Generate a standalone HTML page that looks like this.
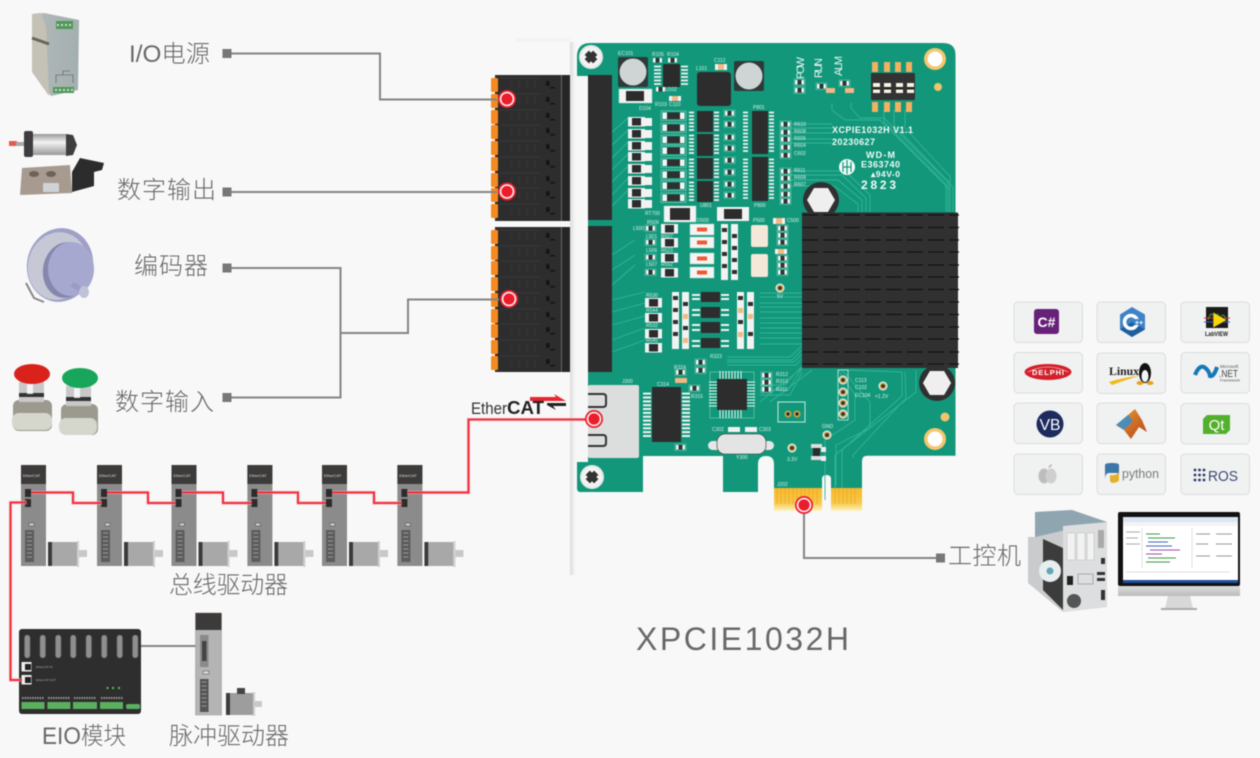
<!DOCTYPE html>
<html><head><meta charset="utf-8"><style>
html,body{margin:0;padding:0;background:#f8f8f8;width:1260px;height:758px;overflow:hidden}
svg{display:block;filter:blur(.45px)}
.l{font-family:"Liberation Sans","Noto Sans CJK SC",sans-serif;font-size:24px;font-weight:300;fill:#686868}
.p{font-family:"Liberation Sans",sans-serif;font-size:5px;fill:#d8f0e8}
.w{font-family:"Liberation Sans",sans-serif;font-weight:700;fill:#f0fbf7}
</style></head><body>
<svg width="1260" height="758" viewBox="0 0 1260 758" xmlns="http://www.w3.org/2000/svg">
<defs>
<linearGradient id="gold" x1="0" y1="0" x2="0" y2="1"><stop offset="0" stop-color="#f6b92b"/><stop offset=".65" stop-color="#f7c84a"/><stop offset="1" stop-color="#fdf3c6"/></linearGradient>
<linearGradient id="br" x1="0" y1="0" x2="1" y2="0"><stop offset="0" stop-color="#dcdcdc"/><stop offset="1" stop-color="#f5f5f5"/></linearGradient>
<linearGradient id="cyl" x1="0" y1="0" x2="0" y2="1"><stop offset="0" stop-color="#999"/><stop offset=".4" stop-color="#f2f2f2"/><stop offset="1" stop-color="#999"/></linearGradient>
<linearGradient id="ps" x1="0" y1="0" x2="1" y2="0"><stop offset="0" stop-color="#c9c7bc"/><stop offset=".3" stop-color="#aeb6b6"/><stop offset="1" stop-color="#a3afaf"/></linearGradient>
<linearGradient id="mon" x1="0" y1="0" x2="0" y2="1"><stop offset="0" stop-color="#ddd"/><stop offset="1" stop-color="#bbb"/></linearGradient>
<linearGradient id="mat" x1="0" y1="0" x2="1" y2="1"><stop offset="0" stop-color="#e8a033"/><stop offset="1" stop-color="#b8421a"/></linearGradient>

<g id="tab"><rect width="7" height="14" fill="#f58a20" rx="1"/></g>
<g id="row"><rect x="4" y="0" width="66" height="15" fill="#2d2d2d"/><path d="M9 1H50" stroke="#444" stroke-width=".6"/><path d="M20 4v8M28 4v8M36 4v8M44 4v8" stroke="#3a3a3a" stroke-width=".8"/><rect x="55" y="4" width="3.500" height="5" fill="#151515"/><rect x="59" y="10" width="5" height="1.500" fill="#151515"/></g>

<g id="dot"><circle r="9" fill="#ee1c2e"/><circle r="7.3" fill="#f8eeee"/><circle r="5.6" fill="#ea1d2c"/></g>

<g id="drv">
<rect width="25" height="101" fill="#8b8b8b"/>
<rect width="25" height="19" fill="#3d3a3a"/>
<text x="2" y="12" font-family="Liberation Sans" font-size="4" fill="#ddd">EtherCAT</text>
<rect x="4" y="24" width="6" height="8" fill="#2c2c2c"/><rect x="4" y="34" width="6" height="8" fill="#2c2c2c"/>
<rect x="8" y="58" width="5" height="3" fill="#ccc" stroke="#444" stroke-width=".5"/>
<rect x="4" y="65" width="9" height="32" fill="#5c5c5c"/>
<path d="M6 68h5M6 72h5M6 76h5M6 80h5M6 84h5M6 88h5M6 92h5" stroke="#999" stroke-width="1"/>
<rect x="27" y="77" width="4" height="24" fill="#3d3a3a"/><rect x="31" y="77" width="25" height="24" fill="#a8a8a8"/>
<rect x="56" y="76" width="2" height="26" fill="#cfcfcf"/><rect x="58" y="85" width="8" height="7" fill="#c8c8c8"/>
</g>

<g id="r"><rect width="9" height="4.5" fill="#f4f4f4"/><rect x="2.5" width="4" height="4.5" fill="#333"/></g>
<g id="rb"><rect x="-1" y="-1" width="11" height="6.5" fill="none" stroke="#7fcdb8" stroke-width=".5"/><use href="#r"/></g>
<g id="d"><rect width="25" height="9.5" fill="none" stroke="#8fd6c3" stroke-width=".6"/><rect x="1.5" y="1.5" width="22" height="6.5" fill="#f4f4f4"/><rect x="6" y="1.5" width="13" height="6.5" fill="#2f2f2f"/></g>
<g id="dl"><rect width="17" height="9.5" fill="#f2f2f2"/><rect x="4" y="1" width="9" height="7.5" fill="#2c2c2c"/></g>
<g id="led"><rect width="24" height="11" fill="#f4f4f4" stroke="#9adcc9" stroke-width=".5"/><rect x="7" y="3.5" width="10" height="4" fill="#ef5a30"/></g>
<g id="pads"><path d="M0 1.5h5M0 5h5M0 8.5h5M0 12h5M0 15.5h5M0 19h5" stroke="#f2f2f2" stroke-width="1.8"/></g>
<g id="pads2"><path d="M0 1.5h5M0 5h5M0 8.5h5M0 12h5M0 15.5h5M0 19h5M0 22.5h5M0 26h5M0 29.5h5M0 33h5M0 36.5h5M0 40h5" stroke="#f2f2f2" stroke-width="1.8"/></g>
<g id="via"><circle r="4.5" fill="#f0f0f0"/><circle r="3.3" fill="#c6a24a"/><circle r="1.8" fill="#2e2e2e"/></g>
<g id="screw"><circle r="12" fill="#e8e8e8"/><circle r="10" fill="#f3f3f3"/><path d="M-6 -3 L-3 -3 L-3 -6 L3 -6 L3 -3 L6 -3 L6 3 L3 3 L3 6 L-3 6 L-3 3 L-6 3Z" fill="#333" transform="rotate(45)"/></g>
<g id="hex"><circle r="18" fill="#303030"/><polygon points="-14,0 -7,-12 7,-12 14,0 7,12 -7,12" fill="#efefef"/></g>
<g id="ring"><circle r="11" fill="#f5c66e"/><circle r="7.5" fill="#fff"/></g>
<g id="tile"><rect width="68.5" height="40.5" rx="4" fill="#f0f1f1" stroke="#dcdcdc"/></g>
</defs>

<rect width="1260" height="758" fill="#f8f8f8"/>

<!-- bracket -->
<rect x="516" y="38" width="54" height="4" fill="#f3f3f3"/>

<!-- PCB -->
<path d="M590 43H943Q955.5 43 955.5 55V455.7H867Q862 455.7 862 461V511H831V479Q831 475 826.5 475Q822 475 822 479V511H774V464Q774 456 766 456Q758 456 758 464V492H723V456H643V492H582Q577 493 577 488V55Q578 43 590 43Z" fill="#12977a"/>
<rect x="570" y="42" width="5" height="533" fill="url(#br)"/>
<rect x="575" y="76" width="13" height="386" fill="#f7f7f7"/>

<!-- traces -->
<g fill="none" stroke="#35b497" stroke-width=".9">
<path d="M832 103V110L845 120H880L935 175 950 190V212M851 103V108L860 118H884L938 172 953 187V212"/>
<path d="M884 110V122L940 178 946 184V212M894 110V125L942 175 948 181V212M905 110V128L944 170 950 176V212"/>
<path d="M780 124H832M780 128H832M780 133H832M780 139H832M780 143H832"/>
<path d="M780 171H845L870 195V212M780 175H842L866 198V212M780 180H838L862 200V212M780 186H834L858 204V212"/>
<path d="M612 132L628 118M612 145L628 130M612 158L628 142M612 170L628 154M612 182L628 166M612 195L628 178M612 206L628 190"/>
<path d="M612 255L635 240M612 270L635 255M612 285L635 265M612 300L645 292M612 312L645 303M612 325L645 316M612 340L645 328M612 352L645 340"/>
<path d="M760 293H802M760 297H802M760 303H802M760 307H802M760 312H802M760 318H802M760 323H802M760 328H802M760 333H802M760 338H802M760 344H802"/>
<path d="M727 357H790L802 346M727 360H792L802 350M727 362H794L802 354M727 365H796L802 358"/>
<path d="M760 395H790L802 372M760 390H788L802 368M760 385H785L802 366"/>
<path d="M838 370L855 395V420L825 440V500M842 370L870 402V428L836 445V486M846 370L902 372V396L842 450V488M905 372L906 398 853 455V458"/>
<path d="M916 370V392L835 455V488"/>
<path d="M760 402L802 368M770 402L812 370"/>
</g>

<!-- connectors on PCB strip -->
<rect x="588" y="75" width="24" height="145" fill="#2d2d2d"/>
<rect x="588" y="226" width="24" height="146" fill="#2d2d2d"/>

<!-- top components -->
<rect x="618" y="57" width="30" height="30" rx="2" fill="#2e3a3a"/><circle cx="633" cy="72" r="13.5" fill="#cfd5d5"/>
<rect x="734" y="61" width="30" height="30" rx="2" fill="#2e3a3a"/><circle cx="749" cy="76" r="13.5" fill="#cfd5d5"/>
<rect x="663" y="64" width="17" height="23" fill="#2b2b2b"/>
<use href="#pads" transform="translate(654,65) scale(1.4,1)"/><use href="#pads" transform="translate(681,65) scale(1.4,1)"/>
<rect x="697" y="72" width="34" height="34" rx="3" fill="#2d2d2d"/>
<rect x="619" y="89" width="33" height="14" fill="#f3f3f3" stroke="#9adcc9" stroke-width=".5"/><rect x="626" y="91" width="18" height="10" fill="#2c2c2c"/>
<use href="#r" x="653" y="58"/><use href="#r" x="668" y="58"/><use href="#r" x="656" y="87"/>
<rect x="669" y="96" width="12" height="5" fill="#f3f3f3"/><rect x="672" y="96" width="6" height="5" fill="#f2b782"/>
<rect x="715" y="64" width="12" height="6" fill="#f3f3f3"/><rect x="718" y="64" width="6" height="6" fill="#f2b782"/>
<use href="#rb" x="795" y="80"/><use href="#rb" x="795" y="88"/><use href="#rb" x="817" y="84"/><use href="#rb" x="840" y="81"/>
<rect x="826" y="88" width="9" height="5" fill="#f2b782"/><rect x="845" y="88" width="9" height="5" fill="#f2b782"/>

<!-- DIP -->
<g fill="#f2b061"><rect x="872" y="62" width="6" height="10"/><rect x="884" y="62" width="6" height="10"/><rect x="895" y="62" width="6" height="10"/><rect x="906" y="62" width="6" height="10"/><rect x="872" y="102" width="6" height="10"/><rect x="884" y="102" width="6" height="10"/><rect x="895" y="102" width="6" height="10"/><rect x="906" y="102" width="6" height="10"/></g>
<rect x="871" y="73" width="44" height="27" rx="1" fill="#333"/>
<g fill="#f7f3e2"><rect x="873" y="83" width="7" height="10"/><rect x="884" y="83" width="7" height="10"/><rect x="896" y="83" width="7" height="10"/><rect x="907" y="83" width="7" height="10"/></g>
<g fill="#222"><rect x="873" y="87" width="7" height="2.500"/><rect x="884" y="87" width="7" height="2.500"/><rect x="896" y="87" width="7" height="2.500"/><rect x="907" y="87" width="7" height="2.500"/></g>

<!-- diode rows -->
<g>
<use href="#dl" x="628" y="117"/><use href="#dl" x="628" y="129"/><use href="#dl" x="628" y="141"/><use href="#dl" x="628" y="152"/><use href="#dl" x="628" y="164"/><use href="#dl" x="628" y="176"/><use href="#dl" x="628" y="188"/><use href="#dl" x="628" y="199"/>
<g fill="#f3f3f3"><rect x="645" y="118" width="7" height="8"/><rect x="645" y="130" width="7" height="8"/><rect x="645" y="142" width="7" height="8"/><rect x="645" y="153" width="7" height="8"/><rect x="645" y="165" width="7" height="8"/><rect x="645" y="177" width="7" height="8"/><rect x="645" y="189" width="7" height="8"/><rect x="645" y="200" width="7" height="8"/></g>
<use href="#d" x="661" y="111"/><use href="#d" x="661" y="123"/><use href="#d" x="661" y="135"/><use href="#d" x="661" y="146"/><use href="#d" x="661" y="158"/><use href="#d" x="661" y="170"/><use href="#d" x="661" y="181"/><use href="#d" x="661" y="193"/>
</g>
<!-- U801 -->
<g fill="#2d2d2d"><rect x="697" y="111" width="16" height="21"/><rect x="697" y="134" width="16" height="22"/><rect x="697" y="158" width="16" height="21"/><rect x="697" y="181" width="16" height="21"/></g>
<use href="#pads" x="689" y="111"/><use href="#pads" x="714" y="111"/><use href="#pads" x="689" y="134"/><use href="#pads" x="714" y="134"/><use href="#pads" x="689" y="158"/><use href="#pads" x="714" y="158"/><use href="#pads" x="689" y="181"/><use href="#pads" x="714" y="181"/>
<use href="#rb" x="725" y="111"/><use href="#rb" x="725" y="122"/><use href="#rb" x="725" y="135"/><use href="#rb" x="725" y="146"/><use href="#rb" x="725" y="158"/><use href="#rb" x="725" y="170"/><use href="#rb" x="725" y="182"/><use href="#rb" x="725" y="193"/>
<!-- P801 -->
<rect x="752" y="111" width="16" height="43" fill="#2d2d2d"/><rect x="752" y="157" width="16" height="44" fill="#2d2d2d"/>
<use href="#pads2" x="743" y="111"/><use href="#pads2" x="769" y="111"/><use href="#pads2" x="743" y="158"/><use href="#pads2" x="769" y="158"/>
<use href="#rb" x="781" y="122"/><use href="#rb" x="781" y="130"/><use href="#rb" x="781" y="137"/><use href="#rb" x="781" y="145"/><use href="#rb" x="781" y="153"/>
<use href="#rb" x="781" y="169"/><use href="#rb" x="781" y="176"/><use href="#rb" x="781" y="184"/><use href="#rb" x="781" y="192"/><use href="#rb" x="781" y="199"/>
<rect x="664" y="206" width="32" height="16" fill="#f3f3f3" stroke="#9adcc9" stroke-width=".5"/><rect x="670" y="208" width="20" height="12" fill="#2c2c2c"/>
<rect x="717" y="207" width="32" height="14" fill="#f3f3f3"/><rect x="724" y="209" width="18" height="10" fill="#2c2c2c"/>

<!-- mid lower -->
<use href="#dl" x="661" y="224"/><use href="#dl" x="661" y="238"/><use href="#dl" x="661" y="253"/><use href="#dl" x="661" y="268"/>
<use href="#rb" x="646" y="226"/><use href="#rb" x="646" y="240"/><use href="#rb" x="646" y="255"/><use href="#rb" x="646" y="270"/>
<use href="#led" x="690" y="224"/><use href="#led" x="690" y="237"/><use href="#led" x="690" y="253"/><use href="#led" x="690" y="267"/>
<g fill="#f2f2f2"><rect x="721" y="224" width="7" height="56"/><rect x="731" y="224" width="7" height="56"/></g>
<g fill="#2e2e2e"><rect x="722" y="228" width="5" height="4"/><rect x="722" y="240" width="5" height="4"/><rect x="722" y="252" width="5" height="4"/><rect x="722" y="264" width="5" height="4"/><rect x="732" y="234" width="5" height="4"/><rect x="732" y="246" width="5" height="4"/><rect x="732" y="258" width="5" height="4"/><rect x="732" y="270" width="5" height="4"/></g>
<rect x="751" y="225" width="17" height="22" rx="2" fill="#f4e8d8"/><rect x="751" y="254" width="17" height="23" rx="2" fill="#f4e8d8"/>
<use href="#rb" x="778" y="226"/><use href="#rb" x="778" y="233"/><use href="#rb" x="778" y="240"/><use href="#rb" x="778" y="256"/><use href="#rb" x="778" y="263"/><use href="#rb" x="778" y="270"/>
<rect x="773" y="218" width="12" height="6" fill="#f3f3f3"/><rect x="776" y="218" width="6" height="6" fill="#f2b782"/>
<rect x="775" y="249" width="12" height="5" fill="#f3f3f3"/><rect x="778" y="249" width="6" height="5" fill="#f2b782"/>
<use href="#via" x="780" y="288"/>

<!-- chips row -->
<use href="#dl" x="645" y="298"/><use href="#dl" x="645" y="313"/><use href="#dl" x="645" y="329"/><use href="#dl" x="645" y="343"/>
<g fill="#2d2d2d"><rect x="701" y="292" width="19" height="10"/><rect x="701" y="307" width="19" height="11"/><rect x="701" y="322" width="19" height="11"/><rect x="701" y="338" width="19" height="10"/></g>
<g fill="#f2f2f2"><rect x="692" y="294" width="8" height="2"/><rect x="692" y="298" width="8" height="2"/><rect x="721" y="294" width="8" height="2"/><rect x="721" y="298" width="8" height="2"/><rect x="692" y="309" width="8" height="2"/><rect x="692" y="314" width="8" height="2"/><rect x="721" y="309" width="8" height="2"/><rect x="721" y="314" width="8" height="2"/><rect x="692" y="324" width="8" height="2"/><rect x="692" y="329" width="8" height="2"/><rect x="721" y="324" width="8" height="2"/><rect x="721" y="329" width="8" height="2"/><rect x="692" y="340" width="8" height="2"/><rect x="692" y="345" width="8" height="2"/><rect x="721" y="340" width="8" height="2"/><rect x="721" y="345" width="8" height="2"/></g>
<g fill="#f2f2f2"><rect x="672" y="292" width="7" height="57"/><rect x="682" y="292" width="7" height="57"/><rect x="737" y="292" width="7" height="57"/><rect x="747" y="292" width="7" height="57"/></g>
<g fill="#2e2e2e"><rect x="673" y="296" width="5" height="4"/><rect x="673" y="308" width="5" height="4"/><rect x="673" y="320" width="5" height="4"/><rect x="673" y="332" width="5" height="4"/><rect x="683" y="302" width="5" height="4"/><rect x="683" y="326" width="5" height="4"/><rect x="738" y="296" width="5" height="4"/><rect x="738" y="320" width="5" height="4"/><rect x="748" y="302" width="5" height="4"/><rect x="748" y="332" width="5" height="4"/></g>
<g fill="#f2b782"><rect x="683" y="314" width="5" height="5"/><rect x="683" y="338" width="5" height="5"/><rect x="738" y="308" width="5" height="5"/><rect x="738" y="332" width="5" height="5"/><rect x="748" y="314" width="5" height="5"/></g>

<!-- ethernet chips -->
<use href="#pads2" transform="translate(643,392) scale(1.6,1.1)"/>
<use href="#pads2" transform="translate(682,392) scale(1.6,1.1)"/>
<rect x="652" y="387" width="29" height="55" fill="#2d2d2d"/>
<rect x="710" y="372" width="44" height="46" fill="none" stroke="#7fcdb8" stroke-width=".6"/>
<g stroke="#e8f3ef" stroke-width="1" fill="none">
<path d="M709 382h8M709 385h8M709 388h8M709 391h8M709 394h8M709 397h8M709 400h8M709 403h8M709 406h8M747 382h8M747 385h8M747 388h8M747 391h8M747 394h8M747 397h8M747 400h8M747 403h8M747 406h8"/>
<path d="M720 371v8M723 371v8M726 371v8M729 371v8M732 371v8M735 371v8M738 371v8M741 371v8M720 410v8M723 410v8M726 410v8M729 410v8M732 410v8M735 410v8M738 410v8M741 410v8"/>
</g>
<rect x="717" y="379" width="30" height="31" fill="#2d2d2d"/>
<use href="#rb" x="762" y="373"/><use href="#rb" x="762" y="380"/><use href="#rb" x="762" y="387"/>
<use href="#rb" x="696" y="360"/><use href="#rb" x="696" y="368"/><use href="#rb" x="690" y="386"/>
<use href="#rb" x="676" y="370"/>
<rect x="675" y="378" width="12" height="5" fill="#f2b782"/>
<use href="#rb" x="676" y="445"/>
<rect x="728" y="427" width="12" height="5" fill="#f2f2f2"/><rect x="745" y="427" width="12" height="5" fill="#f2f2f2"/>
<rect x="708" y="441" width="66" height="9" rx="4.5" fill="#e6e6e6"/>
<rect x="717" y="434" width="49" height="20" rx="8" fill="#e4e4e4" stroke="#333" stroke-width=".6"/>
<!-- J200 -->
<rect x="778" y="402" width="27" height="20" fill="none" stroke="#c7eadf" stroke-width="1"/>
<circle cx="788" cy="414" r="3.5" fill="#c6a24a"/><circle cx="788" cy="414" r="1.6" fill="#222"/><circle cx="797" cy="414" r="3.5" fill="#c6a24a"/><circle cx="797" cy="414" r="1.6" fill="#222"/>
<use href="#via" x="792" y="448"/><use href="#via" x="827" y="435"/>
<use href="#via" x="883" y="386"/>
<rect x="838" y="370" width="10" height="50" fill="none" stroke="#c7eadf" stroke-width=".8"/>
<use href="#via" x="843" y="380"/><use href="#via" x="843" y="392"/><use href="#via" x="843" y="403"/><use href="#via" x="843" y="414"/>
<rect x="813" y="444" width="7" height="16" fill="#2b2b2b"/><rect x="811" y="444" width="11" height="4" fill="#ddd"/><rect x="811" y="456" width="11" height="4" fill="#ddd"/>
<rect x="821" y="447" width="5" height="5" fill="#eee"/>
<rect x="821" y="456" width="5" height="5" fill="#eee"/>

<!-- J300 -->
<rect x="588" y="385" width="51" height="73" fill="#dcdedd" rx="2"/>
<path d="M588 394H603Q606 394 606 397V404Q606 407 603 407H588M588 435H603Q606 435 606 438V443Q606 446 603 446H588" fill="none" stroke="#333" stroke-width="2"/>

<!-- heatsink and holes -->
<use href="#hex" x="821" y="200"/>
<use href="#hex" x="937" y="383"/>
<rect x="802" y="212.5" width="156" height="155.5" fill="#303030"/>
<g stroke="#131313" stroke-width="1.2" stroke-dasharray="16 5" fill="none">
<path d="M802 215H959M802 227.5H959M802 240H959M802 252H959M802 265H959M802 277H959M802 289.5H959M802 302H959M802 314.5H959M802 327H959M802 339H959M802 352H959M802 364H959"/>
</g>
<polygon points="923,383 930,371 944,371 951,383 944,395 930,395" fill="#efefef"/>

<use href="#ring" x="935" y="59"/><use href="#ring" x="935" y="439"/>
<circle cx="938" cy="87" r="4" fill="#f0c46c"/><circle cx="945" cy="417" r="4.5" fill="#f0c46c"/>
<use href="#screw" x="591" y="57"/><use href="#screw" x="592" y="477"/>

<!-- gold fingers -->
<rect x="774" y="488" width="48" height="23" fill="url(#gold)"/>
<rect x="831" y="488" width="31" height="23" fill="url(#gold)"/>
<path d="M777 488V504M781 488V504M785 488V504M789 488V504M793 488V504M797 488V504M801 488V504M805 488V504M809 488V504M813 488V504M817 488V504M835 488V504M839 488V504M843 488V504M847 488V504M851 488V504M855 488V504" stroke="#f0a82a" stroke-width=".8"/>

<!-- PCB labels -->
<text class="w" x="832" y="133" font-size="9" textLength="81">XCPIE1032H V1.1</text>
<text class="w" x="832" y="145" font-size="9" textLength="43">20230627</text>
<text class="w" x="866" y="158" font-size="9" font-weight="400" textLength="29">WD-M</text>
<text class="w" x="861" y="167.500" font-size="9" font-weight="400" textLength="39">E363740</text>
<text class="w" x="871" y="177" font-size="8.500" font-weight="400" textLength="29">▴94V-0</text>
<text class="w" x="861" y="189" font-size="12" font-weight="400" textLength="35">2823</text>
<circle cx="847" cy="167" r="8" fill="#f0fbf7"/><path d="M843 162v10M851 162v10M843 167h8M847 160v14" stroke="#12977a" stroke-width="1.200"/>
<text font-family="Liberation Sans" font-size="11" fill="#eaf7f3" transform="translate(804,79) rotate(-90)" textLength="22">POW</text>
<text font-family="Liberation Sans" font-size="11" fill="#eaf7f3" transform="translate(822,78) rotate(-90)" textLength="20">RUN</text>
<text font-family="Liberation Sans" font-size="11" fill="#eaf7f3" transform="translate(842,76) rotate(-90)" textLength="20">ALM</text>
<g class="p">
<text class="p" x="618" y="55">EC101</text><text class="p" x="652" y="56">R105</text><text class="p" x="667" y="56">R104</text><text class="p" x="714" y="62">C112</text><text class="p" x="696" y="70">L101</text><text class="p" x="665" y="91">U102</text><text class="p" x="655" y="106">R103</text><text class="p" x="669" y="106">C110</text><text class="p" x="639" y="110">D104</text>
<text class="p" x="753" y="109">P801</text><text class="p" x="754" y="207">P800</text><text class="p" x="700" y="207">U801</text><text class="p" x="645" y="215">RT700</text><text class="p" x="697" y="222">D500</text><text class="p" x="753" y="222">P500</text><text class="p" x="787" y="222">C500</text>
<text class="p" x="794" y="126">R610</text><text class="p" x="794" y="133">R608</text><text class="p" x="794" y="140">R606</text><text class="p" x="794" y="147">R604</text><text class="p" x="794" y="155">C602</text><text class="p" x="794" y="172">R611</text><text class="p" x="794" y="179">R609</text><text class="p" x="794" y="186">R607</text>
<text class="p" x="647" y="224">R506</text><text class="p" x="633" y="230">L500</text><text class="p" x="646" y="238">L501</text><text class="p" x="661" y="238">R507</text><text class="p" x="646" y="252">L506</text><text class="p" x="661" y="252">R623</text><text class="p" x="646" y="266">L507</text><text class="p" x="661" y="266">R552</text>
<text class="p" x="646" y="297">R530</text><text class="p" x="646" y="312">R544</text><text class="p" x="646" y="327">R532</text><text class="p" x="646" y="342">R545</text>
<text class="p" x="710" y="358">R323</text><text class="p" x="674" y="369">R324</text><text class="p" x="691" y="398">R315</text><text class="p" x="622" y="383">J300</text><text class="p" x="657" y="386">C314</text>
<text class="p" x="776" y="376">R312</text><text class="p" x="776" y="383">R313</text><text class="p" x="776" y="391">R311</text><text class="p" x="712" y="431">C302</text><text class="p" x="759" y="431">C303</text><text class="p" x="736" y="459">Y300</text>
<text class="p" x="855" y="382">C113</text><text class="p" x="855" y="389">C102</text><text class="p" x="855" y="397">EC104</text><text class="p" x="875" y="398">+1.2V</text><text class="p" x="822" y="428">GND</text><text class="p" x="787" y="461">3.3V</text><text class="p" x="777" y="486">J202</text><text class="p" x="777" y="298">5V</text>
</g>

<!-- connector blocks -->
<g>
<rect x="495" y="75" width="66" height="146" fill="#2d2d2d"/><rect x="562" y="75" width="8" height="146" fill="#262626"/><rect x="561" y="75" width="1" height="146" fill="#666"/>
<rect x="495" y="227" width="66" height="145" fill="#2d2d2d"/><rect x="562" y="227" width="8" height="145" fill="#262626"/><rect x="561" y="227" width="1" height="145" fill="#666"/>
<use href="#row" x="491" y="77"/><use href="#row" x="491" y="93"/><use href="#row" x="491" y="109"/><use href="#row" x="491" y="124"/><use href="#row" x="491" y="140"/><use href="#row" x="491" y="156"/><use href="#row" x="491" y="172"/><use href="#row" x="491" y="187"/><use href="#row" x="491" y="203"/>
<use href="#row" x="491" y="229"/><use href="#row" x="491" y="245"/><use href="#row" x="491" y="260"/><use href="#row" x="491" y="276"/><use href="#row" x="491" y="292"/><use href="#row" x="491" y="308"/><use href="#row" x="491" y="323"/><use href="#row" x="491" y="339"/><use href="#row" x="491" y="355"/>
<use href="#tab" x="491" y="78"/><use href="#tab" x="491" y="94"/><use href="#tab" x="491" y="110"/><use href="#tab" x="491" y="125"/><use href="#tab" x="491" y="141"/><use href="#tab" x="491" y="157"/><use href="#tab" x="491" y="173"/><use href="#tab" x="491" y="188"/><use href="#tab" x="491" y="204"/>
<use href="#tab" x="491" y="230"/><use href="#tab" x="491" y="246"/><use href="#tab" x="491" y="261"/><use href="#tab" x="491" y="277"/><use href="#tab" x="491" y="293"/><use href="#tab" x="491" y="309"/><use href="#tab" x="491" y="324"/><use href="#tab" x="491" y="340"/><use href="#tab" x="491" y="356"/>
</g>

<!-- gray connectors -->
<g fill="none" stroke="#858585" stroke-width="2">
<path d="M231 53.500H380V99.500H497"/>
<path d="M231 192H497"/>
<path d="M231 268H340.500V397.500H231"/>
<path d="M340.500 333H408V299.500H499"/>
<path d="M804 514V558H936"/>
<path d="M140 646H196"/>
</g>
<g fill="#777"><rect x="222.500" y="49" width="9" height="9"/><rect x="222.500" y="187.500" width="9" height="9"/><rect x="222.500" y="263.500" width="9" height="9"/><rect x="222.500" y="393" width="9" height="9"/><rect x="936" y="553.500" width="9" height="9"/></g>

<use href="#dot" x="507" y="99"/><use href="#dot" x="507" y="191.500"/><use href="#dot" x="509" y="299"/>

<!-- labels -->
<text class="l" x="129" y="62" textLength="81" lengthAdjust="spacingAndGlyphs">I/O电源</text>
<text class="l" x="117" y="198" textLength="99" lengthAdjust="spacing">数字输出</text>
<text class="l" x="134" y="274" textLength="74" lengthAdjust="spacing">编码器</text>
<text class="l" x="115" y="410" textLength="99" lengthAdjust="spacing">数字输入</text>
<text class="l" x="169" y="593" textLength="119" lengthAdjust="spacing">总线驱动器</text>
<text class="l" x="42" y="744" textLength="84" lengthAdjust="spacingAndGlyphs">EIO模块</text>
<text class="l" x="169" y="744" textLength="120" lengthAdjust="spacing">脉冲驱动器</text>
<text class="l" x="948" y="564" textLength="73" lengthAdjust="spacing">工控机</text>
<text x="636" y="650" font-family="Liberation Sans" font-size="32" fill="#686868" textLength="213" lengthAdjust="spacing">XPCIE1032H</text>

<!-- EtherCAT logo -->
<text x="471" y="414" font-family="Liberation Sans" font-size="17" fill="#333" textLength="36" lengthAdjust="spacingAndGlyphs">Ether</text>
<text x="507" y="414" font-family="Liberation Sans" font-size="18" font-weight="700" fill="#222" textLength="37" lengthAdjust="spacingAndGlyphs">CAT</text>
<path d="M530 397H556L554 394 566 401H530Z" fill="#e8262f"/>
<path d="M547 403H566V406H553L556 410 547 405Z" fill="#222"/>

<!-- drivers -->
<use href="#drv" x="21" y="465"/><use href="#drv" x="97" y="465"/><use href="#drv" x="171.500" y="465"/><use href="#drv" x="247.400" y="465"/><use href="#drv" x="322" y="465"/><use href="#drv" x="397.400" y="465"/>

<!-- EIO -->
<rect x="19" y="629" width="122" height="85" rx="3" fill="#2e2e2e"/>
<g fill="#8f8f8f" stroke="#666" stroke-width=".6"><rect x="24.500" y="635" width="5.500" height="23" rx="2.700"/><rect x="40" y="635" width="5.500" height="23" rx="2.700"/><rect x="55.500" y="635" width="5.500" height="23" rx="2.700"/><rect x="70.500" y="635" width="5.500" height="23" rx="2.700"/><rect x="86" y="635" width="5.500" height="23" rx="2.700"/><rect x="101.500" y="635" width="5.500" height="23" rx="2.700"/><rect x="117" y="635" width="5.500" height="23" rx="2.700"/><rect x="132.500" y="635" width="5.500" height="23" rx="2.700"/></g>
<g fill="#eee"><rect x="21.500" y="662" width="10" height="9.500"/><rect x="21.500" y="675" width="10" height="9.500"/></g>
<g fill="#222"><rect x="25" y="664" width="6" height="6"/><rect x="25" y="677" width="6" height="6"/></g>
<g fill="#5caf5e"><rect x="21.500" y="702" width="23" height="7"/><rect x="47.400" y="702" width="23" height="7"/><rect x="73" y="702" width="24" height="7"/><rect x="100" y="702" width="23" height="7"/><rect x="126" y="704" width="14" height="5" rx="2"/></g>
<path d="M22 698H44M48 698H70M74 698H96M101 698H123" stroke="#999" stroke-width="2" stroke-dasharray="1.500 1"/>
<g fill="#53c15a"><rect x="106.500" y="687" width="2" height="2"/><rect x="112" y="687" width="2" height="2"/><rect x="118" y="687" width="2" height="2"/></g>
<text x="36" y="668" font-family="Liberation Sans" font-size="3" fill="#aaa">EtherCAT IN</text>
<text x="36" y="681" font-family="Liberation Sans" font-size="3" fill="#aaa">EtherCAT OUT</text>

<!-- pulse driver -->
<rect x="195.500" y="613" width="26" height="102" fill="#b4b4b4" stroke="#999" stroke-width=".5"/>
<rect x="195.500" y="613" width="26" height="17" fill="#3d3a3a"/>
<rect x="200" y="635" width="8.500" height="32" fill="#8a8a8a"/><rect x="202" y="641" width="4.500" height="20" fill="#444"/>
<rect x="203" y="671" width="6" height="3" fill="#ddd" stroke="#444" stroke-width=".5"/>
<rect x="200" y="679" width="8.500" height="33" fill="#555"/>
<path d="M201.500 682h5M201.500 686h5M201.500 690h5M201.500 694h5M201.500 698h5M201.500 702h5M201.500 706h5" stroke="#999" stroke-width="1"/>
<rect x="226" y="693" width="4" height="22" fill="#3d3a3a"/><rect x="230" y="693" width="24" height="22" fill="#9d9d9d"/><rect x="253" y="692" width="2" height="24" fill="#ccc"/><rect x="255" y="701" width="7" height="6" fill="#c8c8c8"/><rect x="237" y="688" width="8" height="6" fill="#444"/>

<!-- red wires -->
<g fill="none" stroke="#f7a3a8" stroke-width="3.400" opacity=".7"><path d="M31 492.500H73V503H102M107 492.500H148V503H176M182 492.500H223V503H252M257 492.500H298V503H326M332 492.500H374V503H402M407 492.500H468.500V419.500H586M27 502.500H10.500V680H22"/></g>
<g fill="none" stroke="#ee2433" stroke-width="1.800"><path d="M31 492.500H73V503H102M107 492.500H148V503H176M182 492.500H223V503H252M257 492.500H298V503H326M332 492.500H374V503H402M407 492.500H468.500V419.500H586M27 502.500H10.500V680H22"/></g>
<use href="#dot" x="594" y="419"/><use href="#dot" x="804" y="505"/>

<!-- power supply -->
<polygon points="32,14 44,13 79,20 78,90 51,96 32,72" fill="url(#ps)"/>
<polygon points="32,14 40,13 46,26 49,96 32,72" fill="#c4c2b6"/>
<rect x="56" y="21" width="17" height="8" fill="#4d9a57"/><rect x="53" y="87" width="21" height="6" fill="#4d9a57"/>
<path d="M55 90h18M57 25h15" stroke="#d8d8d8" stroke-width="2" stroke-dasharray="2 2"/>
<path d="M56 83V75H73V83M63 75V71H70" stroke="#555" fill="none" stroke-width=".6"/>
<path d="M32 38L49 44" stroke="#6b6456" stroke-width="3"/>

<!-- cylinder and valve -->
<rect x="9" y="141" width="8" height="5" fill="#e35b4f"/>
<rect x="16" y="142" width="10" height="4" fill="#aaa"/>
<rect x="24" y="131" width="9" height="26" fill="#3e3e40" rx="2"/>
<rect x="33" y="134" width="33" height="21" fill="url(#cyl)"/>
<polygon points="66,134 73,135 77,145 73,155 66,156" fill="#3e3e40"/>
<polygon points="22,168 70,165 72,193 20,195" fill="#a79a8f"/>
<polygon points="72,172 80,158 104,163 102,170 94,172 94,186 72,192" fill="#2c2c2c"/>
<ellipse cx="34" cy="174" rx="5" ry="3" fill="#6d625a"/><ellipse cx="51" cy="174" rx="5" ry="3" fill="#6d625a"/>
<rect x="43" y="183" width="16" height="9" fill="#cfd3d8"/>

<!-- encoder -->
<ellipse cx="60" cy="265" rx="33" ry="37" fill="#9ea0c8" transform="rotate(12 60 265)"/>
<ellipse cx="58" cy="266" rx="30" ry="34" fill="#c7c8d6" transform="rotate(12 58 266)"/>
<ellipse cx="66" cy="270" rx="23" ry="28" fill="#8587ad" transform="rotate(10 66 270)"/>
<ellipse cx="71" cy="269" rx="23" ry="27" fill="#a6a8cf"/>
<path d="M70 286L84 294 88 291 74 282Z" fill="#9a9cc4"/><ellipse cx="84" cy="292" rx="5" ry="6" fill="#c0c2dc"/>
<path d="M26 283L34 298 44 302" stroke="#888" fill="none" stroke-width="2"/>

<!-- buttons -->
<rect x="13" y="400" width="39" height="31" rx="6" fill="#9c9a8f"/><rect x="12" y="413" width="40" height="17" rx="7" fill="#d5d7cd"/>
<rect x="19" y="382" width="25" height="20" fill="#c8c8c8"/><rect x="19" y="393" width="25" height="4" fill="#333"/><rect x="27" y="384" width="6" height="10" fill="#fff" opacity=".8"/>
<ellipse cx="32" cy="374" rx="18" ry="10" fill="#d9221c"/>
<rect x="61" y="404" width="37" height="31" rx="6" fill="#9c9a8f"/><rect x="59" y="418" width="38" height="17" rx="7" fill="#d5d7cd"/>
<rect x="66" y="386" width="25" height="20" fill="#c8c8c8"/><rect x="66" y="397" width="25" height="4" fill="#333"/><rect x="74" y="388" width="6" height="10" fill="#fff" opacity=".8"/>
<ellipse cx="80" cy="378" rx="18" ry="10" fill="#17a65a"/>

<!-- tiles -->
<use href="#tile" x="1014" y="302"/><use href="#tile" x="1097" y="302"/><use href="#tile" x="1181" y="302"/>
<use href="#tile" x="1014" y="352.500"/><use href="#tile" x="1097" y="353"/><use href="#tile" x="1181" y="352.500"/>
<use href="#tile" x="1014" y="403"/><use href="#tile" x="1097" y="403"/><use href="#tile" x="1181" y="403.500"/>
<use href="#tile" x="1014" y="454"/><use href="#tile" x="1097" y="454"/><use href="#tile" x="1181" y="454"/>

<!-- C# -->
<rect x="1034" y="309" width="25" height="25" rx="3" fill="#68217a"/>
<text x="1046.500" y="327" text-anchor="middle" font-family="Liberation Sans" font-size="14" font-weight="700" fill="#fff">C#</text>
<!-- C++ -->
<polygon points="1132,307 1145,314.500 1145,329.500 1132,337 1120,329.500 1120,314.500" fill="#3e83c8"/>
<polygon points="1132,322 1145,329.500 1132,337 1120,329.500" fill="#1f5f9e"/>
<circle cx="1131" cy="322" r="6.500" fill="none" stroke="#fff" stroke-width="3.500"/><rect x="1134" y="319" width="8" height="6" fill="#3e83c8"/>
<text x="1135" y="325" font-family="Liberation Sans" font-size="7" font-weight="700" fill="#fff">++</text>
<!-- LabVIEW -->
<rect x="1206" y="307" width="22" height="21" fill="#1b1b1b"/>
<path d="M1208 320 Q1212 308 1214 320 Q1218 308 1220 320 Q1223 310 1226 320" fill="none" stroke="#3bb34a" stroke-width="1"/>
<path d="M1204 318H1230" stroke="#e03030" stroke-width="1"/><path d="M1204 322H1230" stroke="#3060d0" stroke-width="1"/>
<polygon points="1213,312 1227,320 1213,328" fill="#f5d60e" stroke="#222" stroke-width=".6"/>
<text x="1205" y="336" font-family="Liberation Sans" font-size="6.500" font-weight="700" fill="#222" textLength="23" lengthAdjust="spacingAndGlyphs">LabVIEW</text>
<!-- Delphi -->
<ellipse cx="1048" cy="372" rx="23.500" ry="8" fill="#d3202a"/>
<path d="M1028 372Q1048 362 1068 372" fill="none" stroke="#fff" stroke-width=".6"/>
<text x="1048" y="375" text-anchor="middle" font-family="Liberation Sans" font-size="7.500" font-weight="700" fill="#fff" textLength="32">DELPHI</text>
<!-- Linux -->
<text x="1109" y="375" font-family="Liberation Serif" font-size="12" font-weight="700" fill="#222" textLength="30" lengthAdjust="spacingAndGlyphs">Linux</text>
<path d="M1109 382Q1125 377 1139 376Q1125 380 1112 385Z" fill="#f1b81a"/>
<ellipse cx="1145" cy="373" rx="6" ry="10" fill="#111"/><ellipse cx="1145" cy="376" rx="3.500" ry="6" fill="#f5f5f5"/><ellipse cx="1140" cy="383" rx="3.500" ry="2" fill="#e8a21a"/><ellipse cx="1150" cy="383" rx="3.500" ry="2" fill="#e8a21a"/>
<!-- .NET -->
<path d="M1195 375Q1199 365 1204 367Q1209 370 1210 376Q1214 377 1217 367" fill="none" stroke="#1778b8" stroke-width="4"/>
<text x="1219" y="377" font-family="Liberation Sans" font-size="10" fill="#444" textLength="19" lengthAdjust="spacingAndGlyphs">.NET</text>
<text x="1220" y="368" font-family="Liberation Sans" font-size="4.500" fill="#555">Microsoft</text>
<text x="1220" y="381.500" font-family="Liberation Sans" font-size="4" fill="#555">Framework</text>
<!-- VB -->
<circle cx="1050" cy="424" r="13.500" fill="#1d2b5e"/>
<text x="1050" y="430" text-anchor="middle" font-family="Liberation Sans" font-size="16" fill="#fff" textLength="21" lengthAdjust="spacingAndGlyphs">VB</text>
<!-- Matlab -->
<polygon points="1116,425 1128,415 1135,409 1142,420 1147,432 1139,427 1131,439 1124,430" fill="url(#mat)"/>
<polygon points="1116,425 1128,415 1133,421 1124,430" fill="#4d8bb8"/>
<!-- Qt -->
<polygon points="1207,415 1230,415 1230,430 1226,434 1203,434 1203,419" fill="#52b02c"/>
<text x="1216.500" y="430" text-anchor="middle" font-family="Liberation Sans" font-size="15" fill="#fff">Qt</text>
<!-- Apple -->
<ellipse cx="1044" cy="476" rx="5.500" ry="7.500" fill="#bdbdbd"/><ellipse cx="1051" cy="476" rx="5.500" ry="7.500" fill="#cfcfcf"/>
<path d="M1048 468Q1049 465 1052 464Q1052 467 1048 468Z" fill="#b5b5b5"/>
<!-- Python -->
<path d="M1105 471V465Q1105 463 1112 463Q1119 463 1119 465V473H1109Q1105 473 1105 480V473Z" fill="#3d76a8"/>
<path d="M1119 473V480Q1119 482 1113 483Q1110 483 1110 480V475Q1115 476 1118 473Z" fill="#e3b02c"/>
<text x="1122" y="478" font-family="Liberation Sans" font-size="13" fill="#7a7a7a" textLength="37" lengthAdjust="spacingAndGlyphs">python</text>
<!-- ROS -->
<g fill="#2b3a67"><circle cx="1195" cy="470" r="1.400"/><circle cx="1199.500" cy="470" r="1.400"/><circle cx="1204" cy="470" r="1.400"/><circle cx="1195" cy="475" r="1.400"/><circle cx="1199.500" cy="475" r="1.400"/><circle cx="1204" cy="475" r="1.400"/><circle cx="1195" cy="480" r="1.400"/><circle cx="1199.500" cy="480" r="1.400"/><circle cx="1204" cy="480" r="1.400"/></g>
<text x="1208" y="481" font-family="Liberation Sans" font-size="15" fill="#3b4a72" textLength="30" lengthAdjust="spacingAndGlyphs">ROS</text>

<!-- IPC -->
<polygon points="1035,512 1072,510 1107,522 1107,607 1063,612 1028,583 1028,537 1035,537" fill="#c9cbcd"/>
<polygon points="1035,512 1072,510 1107,522 1066,530 1035,537" fill="#8fa5b0"/>
<polygon points="1063,526 1107,522 1107,607 1063,612" fill="#dcdedf"/>
<polygon points="1043,539 1063,548 1063,610 1043,590" fill="#3c3c3c"/>
<circle cx="1050" cy="571" r="11" fill="#e8eef0"/><circle cx="1050" cy="571" r="3.500" fill="#62a5b5"/>
<g fill="#f2f2f2" stroke="#bbb" stroke-width=".5"><rect x="1067" y="533" width="8" height="27"/><rect x="1077" y="533" width="8" height="27"/><rect x="1087" y="533" width="7" height="27"/></g>
<rect x="1098" y="530" width="6" height="18" fill="#aaa"/>
<rect x="1067" y="576" width="6" height="9" fill="#222"/><circle cx="1074" cy="601" r="7" fill="#555"/><g fill="#333"><rect x="1097" y="572" width="8" height="3"/><rect x="1097" y="578" width="8" height="3"/><rect x="1101" y="590" width="4" height="10"/><rect x="1101" y="558" width="4" height="6"/></g>
<rect x="1078" y="574" width="15" height="10" fill="none" stroke="#aaa"/>

<!-- monitor -->
<rect x="1118" y="512" width="122" height="74" rx="2" fill="#111"/>
<rect x="1123" y="517" width="115" height="66" fill="#fff"/>
<rect x="1123" y="517" width="115" height="5" fill="#dbe6f2"/>
<rect x="1123" y="522" width="115" height="4" fill="#f3f3f3"/>
<rect x="1123" y="580" width="115" height="3" fill="#1e4f9c"/>
<path d="M1142 528V568M1192 528V568" stroke="#ccc" stroke-width=".6"/>
<g stroke-width="1" fill="none"><path d="M1146 534H1160M1148 538H1175" stroke="#3b9a4b"/><path d="M1148 542H1168M1146 546H1172" stroke="#3b65c0"/><path d="M1150 550H1180M1146 554H1162" stroke="#a04bb0"/><path d="M1148 558H1176M1146 562H1170" stroke="#3b9a4b"/><path d="M1196 534H1210M1216 534H1232M1196 544H1208M1216 544H1232M1196 556H1210M1216 556H1232" stroke="#999"/><path d="M1126 532H1140M1126 538H1138M1126 544H1140" stroke="#aaa"/><path d="M1126 572H1230" stroke="#ddd"/></g>
<rect x="1118" y="586" width="122" height="10" fill="url(#mon)"/>
<polygon points="1168,596 1190,596 1193,608 1165,608" fill="#d8d8d8"/>
<rect x="1161" y="608" width="36" height="2" fill="#aaa"/>
</svg>
</body></html>
